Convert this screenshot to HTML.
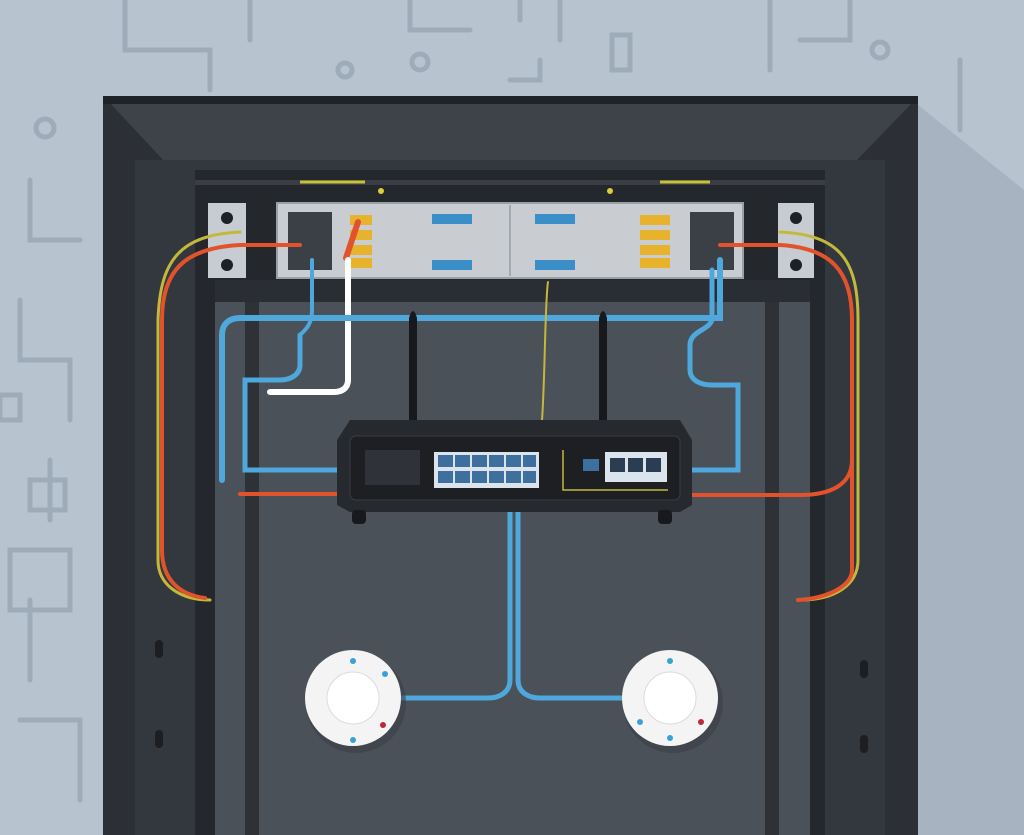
<!DOCTYPE html><html><head><style>body{margin:0;background:#b7c3cf}svg{display:block}</style></head><body>
<svg width="1024" height="835" viewBox="0 0 1024 835" xmlns="http://www.w3.org/2000/svg">
<rect width="1024" height="835" fill="#b7c3cf"/>
<g fill="none" stroke="#9eacba" stroke-width="5" stroke-linecap="round">
<path d="M125 0V50H210V90"/><path d="M250 0V40"/><path d="M410 0V30H470"/><path d="M520 0V20"/><path d="M540 60V80H510"/><path d="M560 0V40"/><path d="M770 0V70"/><path d="M800 40H850V0"/><path d="M960 60V130"/><path d="M30 180V240H80"/><path d="M20 300V360H70V420"/><path d="M50 460V520"/><path d="M30 600V680"/><path d="M960 220H1000"/><path d="M970 290V360"/><path d="M940 400V440H980"/><path d="M960 480H1010"/><path d="M980 700V800"/><path d="M20 720H80V800"/>
<circle cx="345" cy="70" r="7"/><circle cx="880" cy="50" r="8"/><circle cx="45" cy="128" r="9"/><circle cx="420" cy="62" r="8"/>
<rect x="10" y="550" width="60" height="60"/><rect x="960" y="615" width="55" height="25"/><rect x="30" y="480" width="35" height="30"/><rect x="0" y="395" width="20" height="25"/><rect x="612" y="35" width="18" height="35"/>
</g>
<polygon points="918,105 1024,190 1024,835 918,835" fill="#a7b3c0"/>
<rect x="103" y="96" width="815" height="739" fill="#2c3036"/>
<polygon points="110,103 912,103 855,162 165,162" fill="#3e434a"/>
<rect x="103" y="96" width="815" height="8" fill="#1f2226"/>
<rect x="135" y="160" width="750" height="675" fill="#33373e"/>
<rect x="195" y="170" width="630" height="665" fill="#24272c"/>
<rect x="215" y="300" width="595" height="535" fill="#4b5159"/>
<rect x="245" y="300" width="14" height="535" fill="#2e3237"/>
<rect x="765" y="300" width="14" height="535" fill="#2e3237"/>
<rect x="215" y="280" width="595" height="22" fill="#2a2d33"/>
<rect x="195" y="180" width="630" height="5" fill="#3a3e44"/>
<line x1="300" y1="182" x2="365" y2="182" stroke="#c9c13a" stroke-width="3"/>
<line x1="660" y1="182" x2="710" y2="182" stroke="#c9c13a" stroke-width="3"/>
<circle cx="381" cy="191" r="3" fill="#d8cf3a"/><circle cx="610" cy="191" r="3" fill="#d8cf3a"/>
<rect x="155" y="640" width="8" height="18" rx="4" fill="#1c1e22"/><rect x="155" y="730" width="8" height="18" rx="4" fill="#1c1e22"/>
<rect x="860" y="660" width="8" height="18" rx="4" fill="#1c1e22"/><rect x="860" y="735" width="8" height="18" rx="4" fill="#1c1e22"/>
<!-- patch panel -->
<rect x="208" y="203" width="38" height="75" fill="#c7ccd2"/><rect x="778" y="203" width="36" height="75" fill="#c7ccd2"/>
<circle cx="227" cy="218" r="6" fill="#1d2024"/><circle cx="227" cy="265" r="6" fill="#1d2024"/>
<circle cx="796" cy="218" r="6" fill="#1d2024"/><circle cx="796" cy="265" r="6" fill="#1d2024"/>
<rect x="277" y="203" width="466" height="75" fill="#c9cdd2" stroke="#9aa0a8" stroke-width="2"/>
<rect x="288" y="212" width="44" height="58" fill="#3b4047"/><rect x="690" y="212" width="44" height="58" fill="#3b4047"/>
<g fill="#e8b32c"><rect x="350" y="215" width="22" height="10"/><rect x="350" y="230" width="22" height="10"/><rect x="350" y="245" width="22" height="10"/><rect x="350" y="258" width="22" height="10"/><rect x="640" y="215" width="30" height="10"/><rect x="640" y="230" width="30" height="10"/><rect x="640" y="245" width="30" height="10"/><rect x="640" y="258" width="30" height="10"/></g>
<g fill="#3b8fc8"><rect x="432" y="214" width="40" height="10"/><rect x="432" y="260" width="40" height="10"/><rect x="535" y="214" width="40" height="10"/><rect x="535" y="260" width="40" height="10"/></g>
<line x1="510" y1="205" x2="510" y2="276" stroke="#a3a9b0" stroke-width="2"/>
<!-- cables -->
<g fill="none" stroke-linecap="round">
<path d="M240 232C180 235 160 260 158 320V560C158 585 180 600 210 600" stroke="#c4b83c" stroke-width="3"/>
<path d="M780 232C840 235 858 260 858 320V560C858 585 835 600 800 600" stroke="#c4b83c" stroke-width="3"/>
<path d="M300 245H240C185 248 162 270 162 320V550C162 580 180 595 205 598" stroke="#e2532c" stroke-width="4"/>
<path d="M720 245H780C830 248 852 270 852 320V460C852 485 830 495 800 495H692" stroke="#e2532c" stroke-width="4"/>
<path d="M852 460V570C852 585 830 598 798 600" stroke="#e2532c" stroke-width="4"/>
<path d="M337 494H240" stroke="#e2532c" stroke-width="4"/>
<path d="M358 222L346 258" stroke="#e2532c" stroke-width="6"/>
<path d="M348 260V380C348 388 342 392 334 392H270" stroke="#ffffff" stroke-width="6"/>
<path d="M720 260V318H240C228 318 222 325 222 335V480" stroke="#4ea8dc" stroke-width="6"/>
<path d="M312 260V310C312 325 305 330 300 335" stroke="#4ea8dc" stroke-width="4"/>
<path d="M300 335V365C300 375 290 380 280 380H245V470H337" stroke="#4ea8dc" stroke-width="5"/>
<path d="M712 270V318C712 330 690 330 690 345V370C690 380 700 385 712 385H738V470H692" stroke="#4ea8dc" stroke-width="5"/>
<path d="M548 282C545 300 545 380 542 420" stroke="#c4b83c" stroke-width="2"/>
<path d="M510 505V680C510 692 500 698 488 698H402" stroke="#4ea8dc" stroke-width="5"/>
<path d="M518 505V680C518 692 528 698 540 698H622" stroke="#4ea8dc" stroke-width="5"/>
</g>
<!-- antennas -->
<path d="M409 420V318Q413 304 417 318V420Z" fill="#17191c"/>
<path d="M599 420V318Q603 304 607 318V420Z" fill="#17191c"/>
<!-- router -->
<path d="M337 440L350 420H680L692 440V505L680 512H350L337 505Z" fill="#26292e"/>
<rect x="350" y="436" width="330" height="64" rx="6" fill="#1d1f23" stroke="#3a3e44"/>
<rect x="365" y="450" width="55" height="35" fill="#2f3339"/>
<rect x="434" y="452" width="105" height="36" fill="#dbe3ec"/>
<g fill="#3e6f9f"><rect x="438" y="455" width="15" height="12"/><rect x="455" y="455" width="15" height="12"/><rect x="472" y="455" width="15" height="12"/><rect x="489" y="455" width="15" height="12"/><rect x="506" y="455" width="15" height="12"/><rect x="523" y="455" width="13" height="12"/><rect x="438" y="471" width="15" height="12"/><rect x="455" y="471" width="15" height="12"/><rect x="472" y="471" width="15" height="12"/><rect x="489" y="471" width="15" height="12"/><rect x="506" y="471" width="15" height="12"/><rect x="523" y="471" width="13" height="12"/></g>
<path d="M563 450V490H668" fill="none" stroke="#c4b83c" stroke-width="1.5"/>
<rect x="583" y="459" width="16" height="12" fill="#3e6f9f"/>
<rect x="605" y="452" width="62" height="30" fill="#dbe3ec"/>
<g fill="#2b3d52"><rect x="610" y="458" width="15" height="14"/><rect x="628" y="458" width="15" height="14"/><rect x="646" y="458" width="15" height="14"/></g>
<rect x="352" y="510" width="14" height="14" rx="4" fill="#17191c"/><rect x="658" y="510" width="14" height="14" rx="4" fill="#17191c"/>
<!-- access points -->
<circle cx="356" cy="703" r="50" fill="#3b4047" opacity=".6"/>
<circle cx="353" cy="698" r="48" fill="#f4f4f4"/><circle cx="353" cy="698" r="26" fill="#ffffff" stroke="#dcdcdc"/>
<circle cx="353" cy="661" r="3" fill="#3aa0d8"/><circle cx="353" cy="740" r="3" fill="#3aa0d8"/><circle cx="383" cy="725" r="3" fill="#c0283a"/><circle cx="385" cy="674" r="3" fill="#3aa0d8"/>
<circle cx="673" cy="703" r="50" fill="#3b4047" opacity=".6"/>
<circle cx="670" cy="698" r="48" fill="#f4f4f4"/><circle cx="670" cy="698" r="26" fill="#ffffff" stroke="#dcdcdc"/>
<circle cx="670" cy="661" r="3" fill="#3aa0d8"/><circle cx="670" cy="738" r="3" fill="#3aa0d8"/><circle cx="701" cy="722" r="3" fill="#c0283a"/><circle cx="640" cy="722" r="3" fill="#3aa0d8"/>
</svg>
</body></html>
